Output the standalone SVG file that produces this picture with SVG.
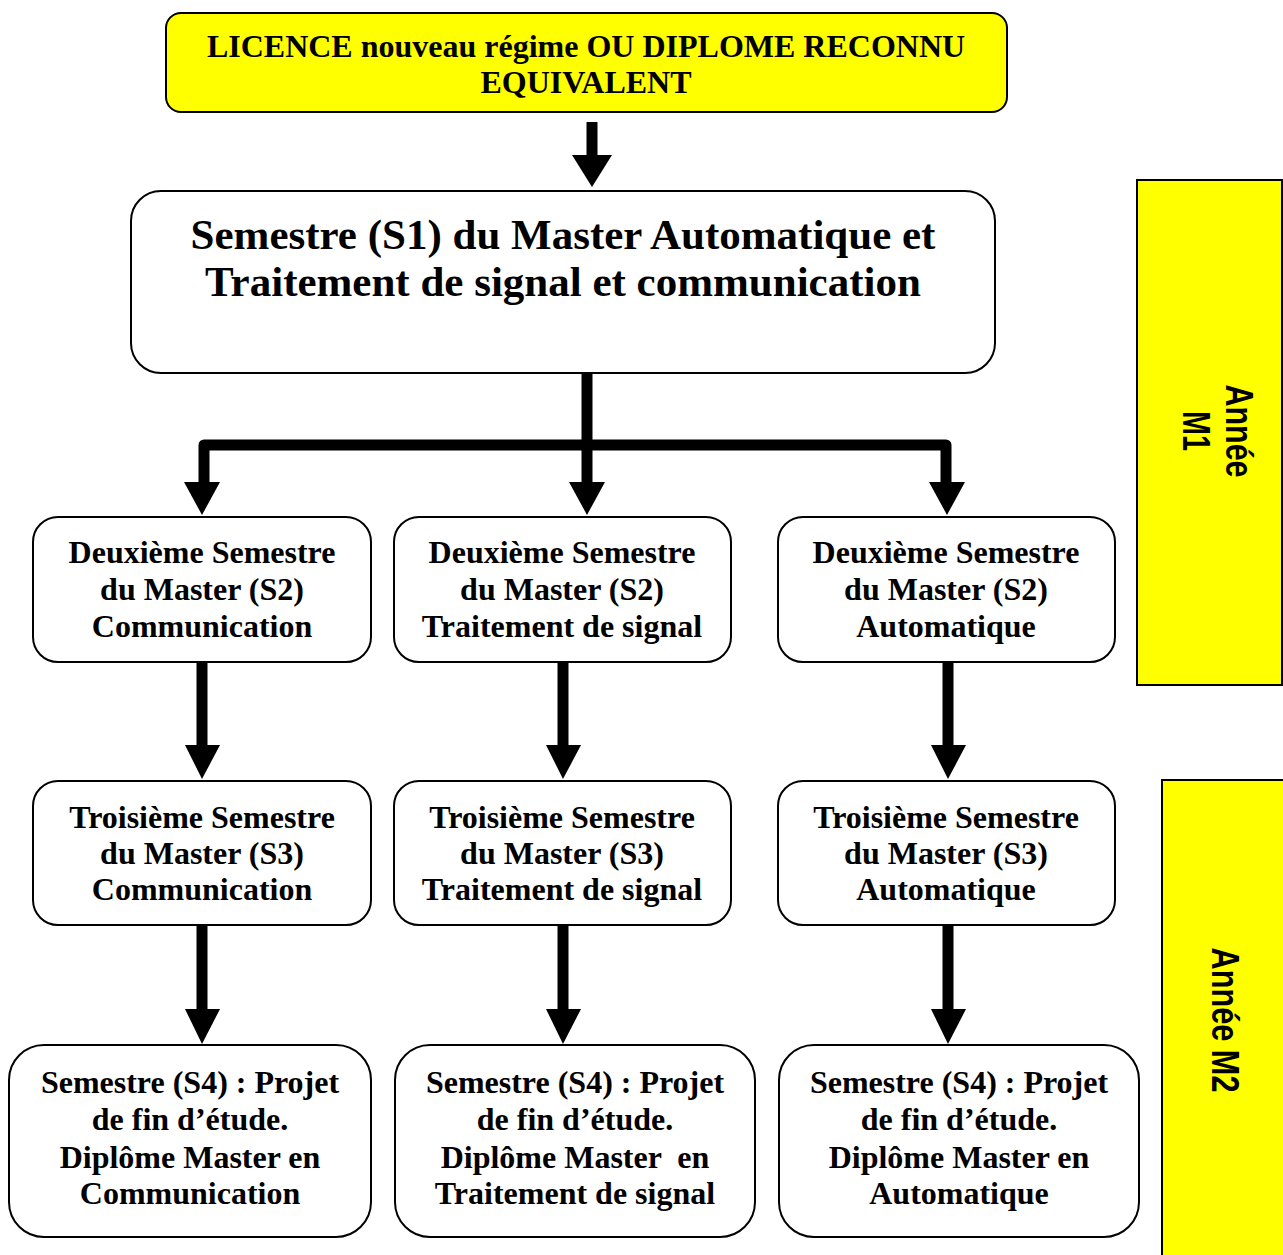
<svg xmlns="http://www.w3.org/2000/svg" width="1283" height="1255" viewBox="0 0 1283 1255">
<style>
.box{fill:#fff;stroke:#000;stroke-width:2}
.yel{fill:#ffff00;stroke:#000;stroke-width:2}
.t{font-family:"Liberation Serif","Times New Roman",serif;font-weight:bold;font-size:32px;fill:#000;text-anchor:middle}
.big{font-size:43px}
.side{font-family:"Liberation Sans",Arial,sans-serif;font-weight:bold;font-size:38px;fill:#000;text-anchor:middle}
.shaft{fill:none;stroke:#000;stroke-width:11;stroke-linejoin:round}
.head{fill:#000}
</style>
<rect width="1283" height="1255" fill="#fff"/>
<g id="connectors">
<path class="shaft" d="M592,122 V157"/>
<polygon class="head" points="572,155 612,155 592,187"/>
<path class="shaft" d="M587,373 V484"/>
<path class="shaft" d="M204,484 V445 H946 V484"/>
<polygon class="head" points="184,482 220,482 202,515"/>
<polygon class="head" points="569,482 605,482 587,515"/>
<polygon class="head" points="929,482 965,482 947,515"/>
<path class="shaft" d="M202,662 V747"/>
<path class="shaft" d="M563,662 V747"/>
<path class="shaft" d="M948,662 V747"/>
<polygon class="head" points="185,745 220,745 202,779"/>
<polygon class="head" points="546,745 581,745 563,779"/>
<polygon class="head" points="931,745 966,745 948,779"/>
<path class="shaft" d="M202,925 V1011"/>
<path class="shaft" d="M563,925 V1011"/>
<path class="shaft" d="M948,925 V1011"/>
<polygon class="head" points="185,1009 220,1009 202,1044"/>
<polygon class="head" points="546,1009 581,1009 563,1044"/>
<polygon class="head" points="931,1009 966,1009 948,1044"/>
</g>
<g id="licence">
<rect class="yel" x="166" y="13" width="841" height="99" rx="15"/>
<text class="t" x="586" y="57">LICENCE nouveau régime OU DIPLOME RECONNU</text>
<text class="t" x="586" y="93">EQUIVALENT</text>
</g>
<g id="s1">
<rect class="box" x="131" y="191" width="864" height="182" rx="30"/>
<text class="t big" x="563" y="249">Semestre (S1) du Master Automatique et</text>
<text class="t big" x="563" y="296">Traitement de signal et communication</text>
</g>
<g id="s2-com">
<rect class="box" x="33" y="517" width="338" height="145" rx="25"/>
<text class="t" x="202" y="563">Deuxième Semestre</text>
<text class="t" x="202" y="600">du Master (S2)</text>
<text class="t" x="202" y="637">Communication</text>
</g>
<g id="s2-ts">
<rect class="box" x="394" y="517" width="337" height="145" rx="25"/>
<text class="t" x="562" y="563">Deuxième Semestre</text>
<text class="t" x="562" y="600">du Master (S2)</text>
<text class="t" x="562" y="637">Traitement de signal</text>
</g>
<g id="s2-auto">
<rect class="box" x="778" y="517" width="337" height="145" rx="25"/>
<text class="t" x="946" y="563">Deuxième Semestre</text>
<text class="t" x="946" y="600">du Master (S2)</text>
<text class="t" x="946" y="637">Automatique</text>
</g>
<g id="s3-com">
<rect class="box" x="33" y="781" width="338" height="144" rx="25"/>
<text class="t" x="202" y="828">Troisième Semestre</text>
<text class="t" x="202" y="864">du Master (S3)</text>
<text class="t" x="202" y="900">Communication</text>
</g>
<g id="s3-ts">
<rect class="box" x="394" y="781" width="337" height="144" rx="25"/>
<text class="t" x="562" y="828">Troisième Semestre</text>
<text class="t" x="562" y="864">du Master (S3)</text>
<text class="t" x="562" y="900">Traitement de signal</text>
</g>
<g id="s3-auto">
<rect class="box" x="778" y="781" width="337" height="144" rx="25"/>
<text class="t" x="946" y="828">Troisième Semestre</text>
<text class="t" x="946" y="864">du Master (S3)</text>
<text class="t" x="946" y="900">Automatique</text>
</g>
<g id="s4-com">
<rect class="box" x="9" y="1045" width="362" height="192" rx="35"/>
<text class="t" x="190" y="1093">Semestre (S4) : Projet</text>
<text class="t" x="190" y="1130">de fin d’étude.</text>
<text class="t" x="190" y="1168">Diplôme Master en</text>
<text class="t" x="190" y="1204">Communication</text>
</g>
<g id="s4-ts">
<rect class="box" x="395" y="1045" width="360" height="192" rx="35"/>
<text class="t" x="575" y="1093">Semestre (S4) : Projet</text>
<text class="t" x="575" y="1130">de fin d’étude.</text>
<text class="t" x="575" y="1168" xml:space="preserve">Diplôme Master  en</text>
<text class="t" x="575" y="1204">Traitement de signal</text>
</g>
<g id="s4-auto">
<rect class="box" x="779" y="1045" width="360" height="192" rx="35"/>
<text class="t" x="959" y="1093">Semestre (S4) : Projet</text>
<text class="t" x="959" y="1130">de fin d’étude.</text>
<text class="t" x="959" y="1168">Diplôme Master en</text>
<text class="t" x="959" y="1204">Automatique</text>
</g>
<g id="annee-m1">
<rect class="yel" x="1137" y="180" width="145" height="505" stroke-width="1.5"/>
<text class="side" transform="translate(1226,431) rotate(90)" textLength="93" lengthAdjust="spacingAndGlyphs">Année</text>
<text class="side" transform="translate(1183,431) rotate(90)" textLength="40" lengthAdjust="spacingAndGlyphs">M1</text>
</g>
<g id="annee-m2">
<rect class="yel" x="1162" y="780" width="130" height="490" stroke-width="1.5"/>
<text class="side" transform="translate(1212,1020) rotate(90)" textLength="145" lengthAdjust="spacingAndGlyphs">Année M2</text>
</g>
</svg>
